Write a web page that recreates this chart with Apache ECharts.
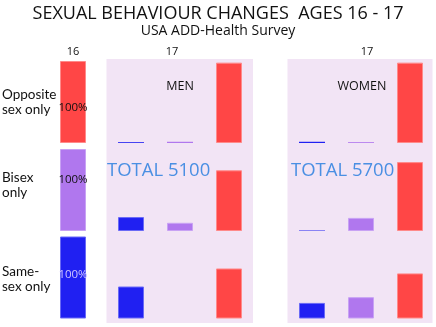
<!DOCTYPE html>
<html>
<head>
<meta charset="utf-8">
<script src="https://cdn.jsdelivr.net/npm/echarts@6/dist/echarts.min.js"></script>
<style>html,body{margin:0;padding:0;background:#fff}#c{width:436px;height:327px}</style>
</head>
<body>
<div id="c"></div>
<script>
const titleText = 'SEXUAL BEHAVIOUR CHANGES  AGES 16 - 17';
const subtitleText = 'USA ADD-Health Survey';
const rowLabels = ['Opposite\nsex only', 'Bisex\nonly', 'Same-\nsex only'];
const ageLabels = ['16', '17', '17'];
const age16Values = [100, 100, 100];
const age16Labels = ['100%', '100%', '100%'];
const age17Categories = ['Same-sex only', 'Bisex only', 'Opposite sex only'];
const menOpposite = [1, 1.5, 98];
const menBisex = [17, 10, 74];
const menSame = [39, 0, 61];
const womenOpposite = [1.5, 1, 98];
const womenBisex = [0.6, 16, 84];
const womenSame = [19, 26, 55];
const panelLabels = ['MEN', 'WOMEN'];
const totalLabels = ['TOTAL 5100', 'TOTAL 5700'];

const RED = '#ff4646', PURPLE = '#b077ee', BLUE = '#2020f2';
const rowColors16 = [RED, PURPLE, BLUE];
const catColors = [BLUE, PURPLE, RED];
const catBorders = ['#6a6af6', '#c8a2f4', '#ff8a8a'];
const rowBorders16 = ['#ff8a8a', '#c8a2f4', '#6a6af6'];
const FONT = 'Open Sans';
const FONT2 = 'Lato';

const rowTops = [61, 149, 236.5];
const rowH = 82;
const panels = [
  {left: 60, width: 26},
  {left: 106.5, width: 147},
  {left: 287.5, width: 147}
];
const menRows = [menOpposite, menBisex, menSame];
const womenRows = [womenOpposite, womenBisex, womenSame];
const labelOffsets = [[0, 6], [0, -10], [0, -3]];
const labelColors = ['#111', '#111', '#cfc6ff'];

const grid = [], xAxis = [], yAxis = [], series = [];
for (let r = 0; r < 3; r++) {
  for (let p = 0; p < 3; p++) {
    const gi = r * 3 + p;
    grid.push({left: panels[p].left, width: panels[p].width, top: rowTops[r], height: rowH, containLabel: false});
    xAxis.push({type: 'category', gridIndex: gi, show: false,
      data: p === 0 ? [rowLabels[r]] : age17Categories});
    yAxis.push({type: 'value', gridIndex: gi, show: false, min: 0, max: 100});
    if (p === 0) {
      series.push({
        type: 'bar', xAxisIndex: gi, yAxisIndex: gi, barWidth: '100%', z: 10,
        itemStyle: {color: rowColors16[r], borderColor: rowBorders16[r], borderWidth: 1},
        label: {show: true, position: 'inside', offset: labelOffsets[r], color: labelColors[r],
          fontFamily: FONT, fontSize: 11.5, formatter: () => age16Labels[r]},
        data: [age16Values[r]]
      });
    } else {
      const vals = (p === 1 ? menRows : womenRows)[r];
      series.push({
        type: 'bar', xAxisIndex: gi, yAxisIndex: gi, barWidth: 26, z: 10,
        data: vals.map((v, i) => ({value: v,
          itemStyle: {color: catColors[i], borderColor: v > 3 ? catBorders[i] : catColors[i], borderWidth: v > 3 ? 1 : 0}}))
      });
    }
  }
}

const graphic = [];
[1, 2].forEach(p => {
  graphic.push({type: 'rect', z: 0, shape: {x: panels[p].left, y: 59, width: p === 1 ? 146.5 : 145, height: 264},
    style: {fill: '#f2e4f5'}});
});
const ageX = [73, 172, 367];
ageLabels.forEach((t, i) => graphic.push({type: 'text', z: 20, x: ageX[i], y: 52,
  style: {text: t, fontFamily: FONT, fontSize: 11, fill: '#111', textAlign: 'center', textVerticalAlign: 'middle'}}));
const rowLabelY = [102, 185.5, 279.5];
rowLabels.forEach((t, i) => graphic.push({type: 'text', z: 20, x: 2, y: rowLabelY[i],
  style: {text: t, fontFamily: FONT2, fontSize: 13.5, lineHeight: 15, fill: '#111', textAlign: 'left', textVerticalAlign: 'middle'}}));
const panelLabelX = [180, 362];
panelLabels.forEach((t, i) => graphic.push({type: 'text', z: 20, x: panelLabelX[i], y: 86.5,
  style: {text: t, fontFamily: FONT, fontSize: 12.5, fill: '#111', textAlign: 'center', textVerticalAlign: 'middle'}}));
const totalX = [107, 291];
totalLabels.forEach((t, i) => graphic.push({type: 'text', z: 20, x: totalX[i], y: 170.5,
  style: {text: t, fontFamily: FONT, fontSize: 18.5, fill: '#4a8fe3', textAlign: 'left', textVerticalAlign: 'middle'}}));

const chart = echarts.init(document.getElementById('c'), null, {renderer: 'canvas'});
chart.setOption({
  animation: false,
  backgroundColor: '#fff',
  title: {text: titleText, subtext: subtitleText, left: 'center', top: 0, itemGap: 1,
    textStyle: {fontFamily: FONT, fontSize: 18, fontWeight: 'normal', color: '#111'},
    subtextStyle: {fontFamily: FONT, fontSize: 14, color: '#111'}},
  grid, xAxis, yAxis, series, graphic
});
</script>
</body>
</html>
